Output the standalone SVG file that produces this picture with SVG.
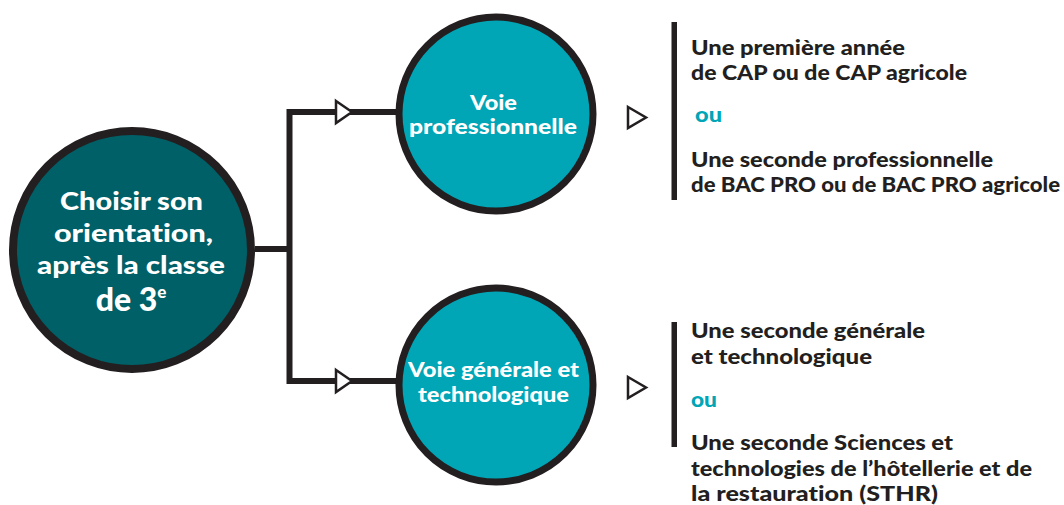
<svg xmlns="http://www.w3.org/2000/svg" width="1064" height="505" viewBox="0 0 1064 505">
<style>
.bg{fill:#ffffff}
.line{fill:none;stroke:#231f20;stroke-width:6}
.arr{fill:#ffffff;stroke:#231f20;stroke-width:2.5;stroke-linejoin:miter}
.bar{fill:#231f20}
.main{fill:#006068;stroke:#231f20;stroke-width:8}
.voie{fill:#00a5b6;stroke:#231f20;stroke-width:7}
text{font-family:"Lato","Open Sans","Liberation Sans",sans-serif;font-weight:900;font-variant-ligatures:none}
.w{fill:#ffffff;text-anchor:middle}
.t{fill:#231f20;font-size:21px}
.ou{fill:#00a5b6;font-size:21px}
</style>
<rect class="bg" x="0" y="0" width="1064" height="505"/>
<g id="connectors">
<path class="line" d="M255,249 H289.5 M289.5,109 V384 M286.5,112 H398 M286.5,381 H398"/>
<polygon class="arr" points="336,101 352,112 336,123"/>
<polygon class="arr" points="336,370 352,381 336,392"/>
<polygon class="arr" points="628,107 646,117.5 628,128"/>
<polygon class="arr" points="628,377 646,387.5 628,398"/>
</g>
<g id="node-main">
<circle class="main" cx="132" cy="250" r="119"/>
<text class="w" font-size="25" x="131.5" y="210" textLength="143" lengthAdjust="spacingAndGlyphs">Choisir son</text>
<text class="w" font-size="25" x="133.5" y="242" textLength="159" lengthAdjust="spacingAndGlyphs">orientation,</text>
<text class="w" font-size="24" x="131" y="274" textLength="188" lengthAdjust="spacingAndGlyphs">après la classe</text>
<text class="w" font-size="32" x="131" y="311">de 3<tspan font-size="17" dy="-13">e</tspan></text>
</g>
<g id="node-pro">
<circle class="voie" cx="496" cy="114" r="97"/>
<text class="w" font-size="21" x="493.5" y="110" textLength="47" lengthAdjust="spacingAndGlyphs">Voie</text>
<text class="w" font-size="21" x="493" y="134" textLength="168" lengthAdjust="spacingAndGlyphs">professionnelle</text>
</g>
<g id="node-gen">
<circle class="voie" cx="496" cy="385" r="97"/>
<text class="w" font-size="21" x="493.5" y="377" textLength="171" lengthAdjust="spacingAndGlyphs">Voie générale et</text>
<text class="w" font-size="21" x="493.5" y="402" textLength="151" lengthAdjust="spacingAndGlyphs">technologique</text>
</g>
<g id="node-pro-options">
<rect class="bar" x="671.5" y="22" width="5.5" height="178"/>
<text class="t" x="691" y="55" textLength="214" lengthAdjust="spacingAndGlyphs">Une première année</text>
<text class="t" x="691" y="80" textLength="276" lengthAdjust="spacingAndGlyphs">de CAP ou de CAP agricole</text>
<text class="ou" x="695" y="122" textLength="27" lengthAdjust="spacingAndGlyphs">ou</text>
<text class="t" x="691" y="167" textLength="302" lengthAdjust="spacingAndGlyphs">Une seconde professionnelle</text>
<text class="t" x="691" y="192" textLength="369" lengthAdjust="spacingAndGlyphs">de BAC PRO ou de BAC PRO agricole</text>
</g>
<g id="node-gen-options">
<rect class="bar" x="671.5" y="322" width="5.5" height="125"/>
<text class="t" x="691" y="338" textLength="234" lengthAdjust="spacingAndGlyphs">Une seconde générale</text>
<text class="t" x="691" y="364" textLength="181" lengthAdjust="spacingAndGlyphs">et technologique</text>
<text class="ou" x="691" y="407" textLength="26" lengthAdjust="spacingAndGlyphs">ou</text>
<text class="t" x="691" y="450" textLength="262" lengthAdjust="spacingAndGlyphs">Une seconde Sciences et</text>
<text class="t" x="691" y="476" textLength="341" lengthAdjust="spacingAndGlyphs">technologies de l’hôtellerie et de</text>
<text class="t" x="691" y="501" textLength="247" lengthAdjust="spacingAndGlyphs">la restauration (STHR)</text>
</g>
</svg>
